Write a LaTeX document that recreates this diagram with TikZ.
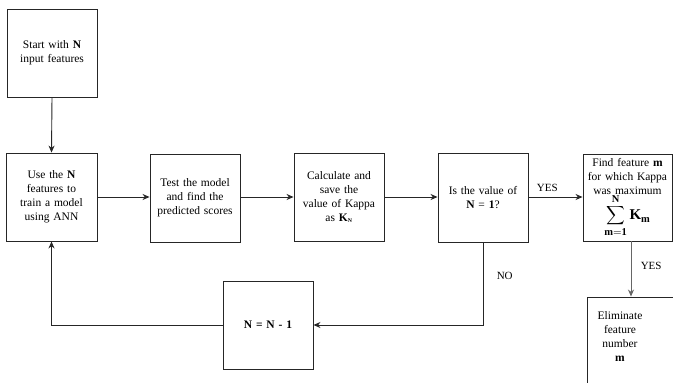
\documentclass[tikz,border=0pt]{standalone}
\usepackage{fontspec}
\usepackage{graphicx}
\setmainfont{Liberation Serif}
\usetikzlibrary{arrows.meta,positioning}
\begin{document}
\begin{tikzpicture}[x=1pt,y=-1pt,
  box/.style={draw=black!85,line width=0.9pt,minimum width=90pt,minimum height=88pt,inner sep=0pt,align=center,text width=88pt,font=\fontsize{11.5}{14}\selectfont},
  conn/.style={draw=black!85,line width=0.9pt,-{Stealth[length=7pt,width=6pt]}},
  lbl/.style={font=\fontsize{11}{13}\selectfont}]
\useasboundingbox (0,0) rectangle (673,383);
\node[box] (b1) at (52,53) {Start with \textbf{N}\\input features};
\node[box,minimum width=91pt] (b2) at (51.5,197) {Use the \textbf{N}\\features to\\train a model\\using ANN};
\node[box] (b3) at (195,198) {Test the model\\and find the\\predicted scores};
\node[box] (b4) at (339,197) {Calculate and\\save the\\value of Kappa\\as $\mathbf{K}_{\scriptscriptstyle\mathbf{N}}$};
\node[box,minimum height=89pt] (b5) at (483,197.5) {Is the value of\\\textbf{N} = \textbf{1}?};
\node[box,minimum width=89pt,minimum height=87pt,text width=89pt] (b6) at (627.5,197.5) {Find feature \textbf{m}\\for which Kappa\\was maximum\\[-1pt]\scalebox{1.3}{$\displaystyle\sum_{\mathbf{m=1}}^{\mathbf{N}}\mathbf{K}_{\mathbf{m}}$}};
\node[box,minimum width=88pt] (b7) at (631,341) {};
\node[font=\fontsize{11.5}{14}\selectfont,align=center] (t7) at (620,337) {Eliminate\\feature\\number\\\textbf{m}};
\node[box] (b8) at (268,325) {\textbf{N = N - 1}};
\draw[conn] (b1.south) -- (b2.north);
\draw[conn] (b2.east) -- (b3.west |- b2.east);
\draw[conn] (b3.east |- b2.east) -- (b4.west |- b2.east);
\draw[conn] (b4.east) -- (b5.west |- b4.east);
\draw[conn] (b5.east |- b4.east) -- node[lbl,above=2pt,pos=0.35] (y1) {YES} (b6.west |- b4.east);
\draw[conn,draw=black!60] (b7.north |- b6.south) -- node[lbl,right=6pt,pos=0.45] (y2) {YES} (b7.north);
\draw[conn] (b5.south) |- node[lbl,pos=0.2,right=10pt] (no) {NO} (b8.east);
\draw[conn] (b8.west) -| (b2.south);
\end{tikzpicture}
\end{document}
